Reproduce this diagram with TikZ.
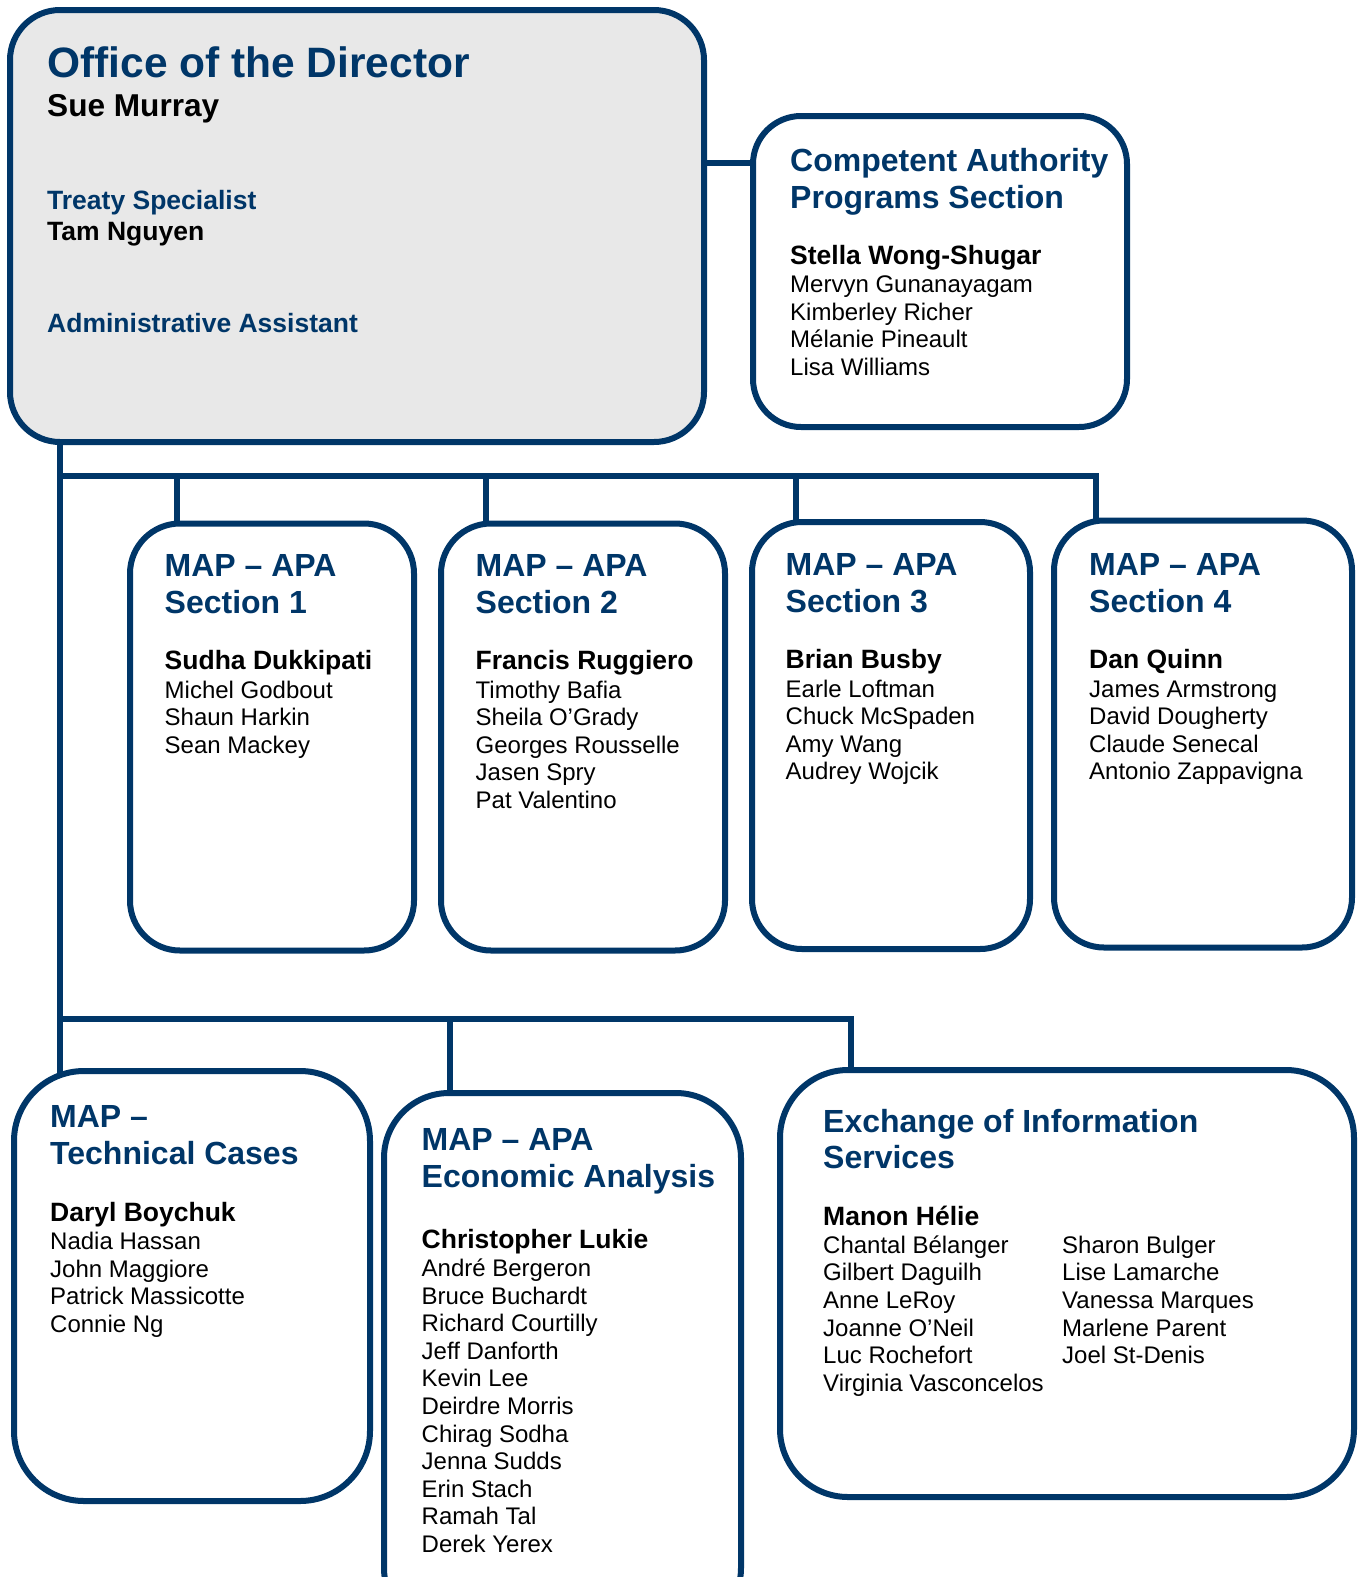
\documentclass[tikz,border=0pt]{standalone}
\usepackage{fontspec}
\setmainfont{Liberation Sans}
\usetikzlibrary{backgrounds}
\definecolor{navy}{RGB}{0,54,104}
\definecolor{officegray}{RGB}{232,232,232}
\tikzset{
  unit/.style={draw=navy, line width=6pt, fill=white, anchor=north west, inner sep=0pt, outer sep=0pt},
  link/.style={draw=navy, line width=6pt},
  title/.style={anchor=base west, inner sep=0pt, text=navy, font=\fontsize{32}{36.5}\selectfont\bfseries},
  lead/.style={anchor=base west, inner sep=0pt, font=\fontsize{26.5}{30}\selectfont\bfseries},
  staff/.style={anchor=base west, inner sep=0pt, font=\fontsize{24}{27.6}\selectfont},
}
% one node per line: name prefix, x, first baseline, list
\newcommand\roster[4]{%
  \foreach \nm [count=\k from 0] in {#4}
    \node [staff] (#1-\k) at (#2,{#3+27.6*\k}) {\nm};}
\begin{document}
\begin{tikzpicture}[x=1pt, y=-1pt]
  \useasboundingbox (0,0) rectangle (1362,1577);
  % boxes
  \node [unit, fill=officegray, rounded corners=50pt, minimum width=694pt, minimum height=432pt] (dir) at (10,10) {};
  \node [unit, rounded corners=48pt, minimum width=374pt, minimum height=311pt] (ca) at (753,116) {};
  \node [unit, rounded corners=50pt, minimum width=284pt, minimum height=427pt] (s1) at (130,523.5) {};
  \node [unit, rounded corners=50pt, minimum width=284pt, minimum height=427pt] (s2) at (441,523.5) {};
  \node [unit, rounded corners=50pt, minimum width=278pt, minimum height=427pt] (s3) at (752,522) {};
  \node [unit, rounded corners=50pt, minimum width=298pt, minimum height=427pt] (s4) at (1054,520.5) {};
  \node [unit, rounded corners=70pt, minimum width=356pt, minimum height=430pt] (tc) at (14,1071) {};
  \node [unit, rounded corners=65pt, minimum width=357pt, minimum height=540pt] (ea) at (384,1093) {};
  \node [unit, rounded corners=68pt, minimum width=574pt, minimum height=427pt] (eoi) at (780,1070) {};

  % junctions
  \coordinate (j1) at (60,476);
  \coordinate (j2) at (60,1019);
  \coordinate (tie) at (730,163);
  \coordinate (d1) at (177,476);
  \coordinate (d2) at (486,476);
  \coordinate (d3) at (795.5,476);
  \coordinate (d4) at (1096,476);
  \coordinate (e1) at (450,1019);
  \coordinate (e2) at (851,1019);

  \begin{scope}[on background layer]
    \draw [link] (dir.center |- tie) -- (ca.center |- tie);
    \draw [link] (j1 |- dir.center) -- (j1 |- tc.center);
    \draw [link] (j1) -- (d4) -- (d4 |- s4.center);
    \foreach \i in {1,2,3}
      \draw [link] (d\i) -- (d\i |- s\i.center);
    \draw [link] (j2) -- (e2) -- (e2 |- eoi.center);
    \draw [link] (e1) -- (e1 |- ea.center);
  \end{scope}

  % office of the director
  \node [title, font=\fontsize{42.5}{46}\selectfont\bfseries] (dir-title) at (47,77.5) {Office of the Director};
  \node [lead, font=\fontsize{31.6}{34}\selectfont\bfseries] (dir-head) at (47,116.5) {Sue Murray};
  \node [title, font=\fontsize{26.5}{30}\selectfont\bfseries] (dir-treaty) at (47,209) {Treaty Specialist};
  \node [lead] (dir-tam) at (47,240.7) {Tam Nguyen};
  \node [title, font=\fontsize{26.5}{30}\selectfont\bfseries] (dir-admin) at (47,332.5) {Administrative Assistant};

  % competent authority
  \node [title] (ca-title) at (790,171.7) {Competent Authority};
  \node [title] (ca-sub) at (790,208.2) {Programs Section};
  \node [lead] (ca-head) at (790,264) {Stella Wong-Shugar};
  \roster{ca}{790}{292.7}{Mervyn Gunanayagam, Kimberley Richer, Mélanie Pineault, Lisa Williams}

  % sections
  \node [title] (s1-title) at (164.5,576.5) {MAP – APA};
  \node [title] (s1-sub) at (164.5,613) {Section 1};
  \node [lead] (s1-head) at (164.5,669) {Sudha Dukkipati};
  \roster{s1}{164.5}{698}{Michel Godbout, Shaun Harkin, Sean Mackey}

  \node [title] (s2-title) at (475.5,576.5) {MAP – APA};
  \node [title] (s2-sub) at (475.5,613) {Section 2};
  \node [lead] (s2-head) at (475.5,669) {Francis Ruggiero};
  \roster{s2}{475.5}{698}{Timothy Bafia, Sheila O’Grady, Georges Rousselle, Jasen Spry, Pat Valentino}

  \node [title] (s3-title) at (785.5,575.5) {MAP – APA};
  \node [title] (s3-sub) at (785.5,612) {Section 3};
  \node [lead] (s3-head) at (785.5,668) {Brian Busby};
  \roster{s3}{785.5}{697}{Earle Loftman, Chuck McSpaden, Amy Wang, Audrey Wojcik}

  \node [title] (s4-title) at (1089,575.5) {MAP – APA};
  \node [title] (s4-sub) at (1089,612) {Section 4};
  \node [lead] (s4-head) at (1089,668) {Dan Quinn};
  \roster{s4}{1089}{697}{James Armstrong, David Dougherty, Claude Senecal, Antonio Zappavigna}

  % technical cases
  \node [title] (tc-title) at (50,1127.5) {MAP –};
  \node [title] (tc-sub) at (50,1164.5) {Technical Cases};
  \node [lead] (tc-head) at (50,1221) {Daryl Boychuk};
  \roster{tc}{50}{1249.5}{Nadia Hassan, John Maggiore, Patrick Massicotte, Connie Ng}

  % economic analysis
  \node [title] (ea-title) at (421.5,1150) {MAP – APA};
  \node [title] (ea-sub) at (421.5,1187) {Economic Analysis};
  \node [lead] (ea-head) at (421.5,1248.5) {Christopher Lukie};
  \roster{ea}{421.5}{1276.5}{André Bergeron, Bruce Buchardt, Richard Courtilly, Jeff Danforth, Kevin Lee, Deirdre Morris, Chirag Sodha, Jenna Sudds, Erin Stach, Ramah Tal, Derek Yerex}

  % exchange of information
  \node [title] (eoi-title) at (823,1132.5) {Exchange of Information};
  \node [title] (eoi-sub) at (823,1168.5) {Services};
  \node [lead] (eoi-head) at (823,1225) {Manon Hélie};
  \roster{eoi}{823}{1253.3}{Chantal Bélanger, Gilbert Daguilh, Anne LeRoy, Joanne O’Neil, Luc Rochefort, Virginia Vasconcelos}
  \roster{eoi2}{1062}{1253.3}{Sharon Bulger, Lise Lamarche, Vanessa Marques, Marlene Parent, Joel St-Denis}
\end{tikzpicture}
\end{document}
